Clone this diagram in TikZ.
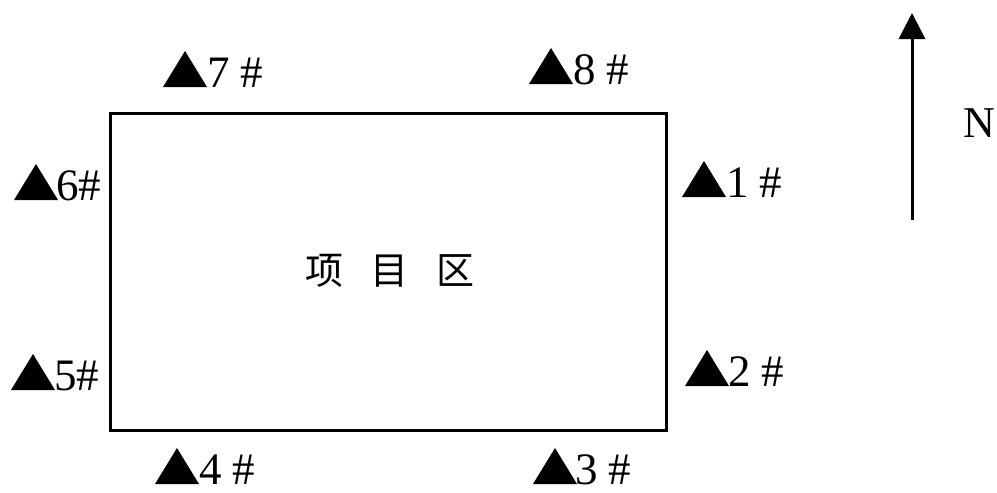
\documentclass[tikz,border=0pt]{standalone}
\usepackage{fontspec}
\setmainfont{Liberation Serif}
\newfontfamily\cjk{Noto Sans CJK SC}
\usetikzlibrary{arrows.meta}
\begin{document}
\begin{tikzpicture}[x=1pt,y=-1pt,
  lbl/.style={inner sep=0pt, anchor=base west, font=\fontsize{45}{45}\selectfont},
  border/.style={draw=black, line width=3pt},
  northarrow/.style={line width=3pt, -{Triangle[length=26pt,width=26pt]}}]
\useasboundingbox (0,0) rectangle (997,493);
\newcommand\tri[2]{\fill[black] (#1,#2) -- ++(44,0) -- ++(-22,-36) -- cycle;}
% project area
\draw[border] (110,113) rectangle (666,430);
\node[inner sep=0pt, font=\cjk\fontsize{38}{38}\selectfont] (area) at (390,271) {项\hspace{28pt}目\hspace{28pt}区};
% markers
\tri{163}{87} \node[lbl] (m7) at (207,87) {7 \#};
\tri{529}{84} \node[lbl] (m8) at (573,84) {8 \#};
\tri{14}{200} \node[lbl] (m6) at (56,200) {6\#};
\tri{682}{197} \node[lbl] (m1) at (726,197) {1 \#};
\tri{11}{390} \node[lbl] (m5) at (54,390) {5\#};
\tri{685}{386} \node[lbl] (m2) at (728,386) {2 \#};
\tri{155}{484} \node[lbl] (m4) at (199,484) {4 \#};
\tri{533}{484} \node[lbl] (m3) at (575,484) {3 \#};
% north arrow
\coordinate (s) at (912,220);
\coordinate (t) at (912,13);
\draw[northarrow] (s) -- (t);
\node[inner sep=0pt, font=\fontsize{44}{44}\selectfont] (N) at (979,123) {N};
\end{tikzpicture}
\end{document}
